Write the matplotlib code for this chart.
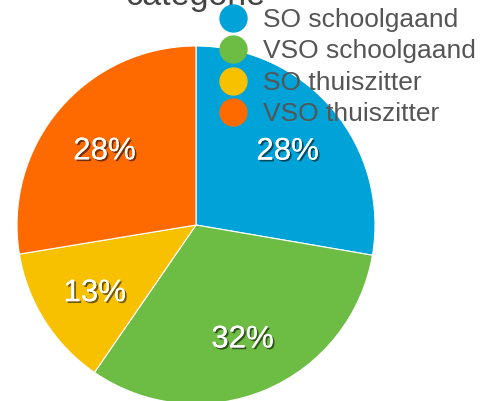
import matplotlib
matplotlib.use("Agg")
import matplotlib.pyplot as plt
import matplotlib.patheffects as pe
from matplotlib.lines import Line2D

categories = ["SO schoolgaand", "VSO schoolgaand", "SO thuiszitter", "VSO thuiszitter"]
values = [27.7, 31.9, 12.8, 27.6]
colors = ["#00A3D8", "#6DBD45", "#F7C100", "#FF6A00"]
title = "categorie"

plt.rcParams['font.family'] = ['Liberation Sans', 'DejaVu Sans']

W, H = 492, 401
fig = plt.figure(figsize=(W / 100, H / 100), dpi=100)
cx, cy, R = 196, 225, 179
ax = fig.add_axes([(cx - R) / W, (H - cy - R) / H, 2 * R / W, 2 * R / H])
wedges, texts, autotexts = ax.pie(
    values, colors=colors, startangle=90, counterclock=False,
    autopct=lambda p: f"{p:.0f}%", pctdistance=0.67,
    wedgeprops=dict(linewidth=0.8, edgecolor="white"),
    textprops=dict(color="white", fontsize=22.5))
for t in autotexts:
    x, y = t.get_position()
    t.set_position((x, y - 0.022))
    t.set_path_effects([pe.withSimplePatchShadow(offset=(1.3, -1.3), shadow_rgbFace="black", alpha=0.55),
                        pe.Normal()])
ax.set_xlim(-1, 1)
ax.set_ylim(-1, 1)
ax.set_aspect("equal")
ax.axis("off")

fig.text(196 / W, 1 - 5 / H, title, ha="center", va="baseline", fontsize=24.5, color="#444444")

handles = [Line2D([], [], marker="o", linestyle="none", markersize=19.4,
                  markerfacecolor=c, markeredgecolor=c) for c in colors]
leg = fig.legend(handles, categories, loc="upper left",
                 bbox_to_anchor=(214.5 / W, 1 - 8 / H), frameon=False,
                 fontsize=19, labelcolor="#555555", labelspacing=0.28,
                 handletextpad=0.44, handlelength=1.4, borderpad=0, borderaxespad=0)
fig.savefig("out.png", dpi=100)
